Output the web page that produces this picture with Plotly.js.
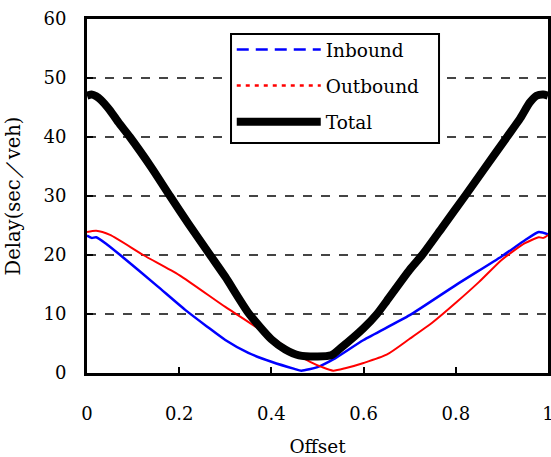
<!DOCTYPE html>
<html>
<head>
<meta charset="utf-8">
<script src="https://cdn.plot.ly/plotly-3.0.1.min.js"></script>
<style>html,body{margin:0;padding:0;background:#fff;}#chart{width:551px;height:457px;}</style>
</head>
<body>
<div id="chart"></div>
<script>
// Offset (x) and delay (sec/veh)
const offsetTotal = [0, 0.01, 0.02, 0.03, 0.05, 0.07, 0.093, 0.14, 0.18, 0.22, 0.267, 0.3, 0.35, 0.4, 0.43, 0.46, 0.5, 0.53, 0.55, 0.6, 0.629, 0.65, 0.7, 0.727, 0.77, 0.82, 0.86, 0.911, 0.94, 0.96, 0.975, 0.99, 1];
const delayTotal  = [47, 47.2, 46.9, 46.3, 44.5, 42.3, 40, 34.8, 30, 25.3, 20, 16.3, 10.2, 5.7, 4.0, 3.0, 2.8, 3.0, 4.2, 7.6, 10, 12.2, 17.5, 20, 24.6, 30, 34.4, 40, 43.2, 45.8, 47, 47.2, 47];

const offsetIn = [0, 0.01, 0.02, 0.04, 0.072, 0.15, 0.213, 0.26, 0.3, 0.35, 0.4, 0.45, 0.465, 0.5, 0.534, 0.6, 0.7, 0.8, 0.9, 0.95, 0.98, 1];
const delayIn  = [23.3, 22.9, 23.0, 22.0, 20, 14.9, 10.7, 7.9, 5.6, 3.4, 1.9, 0.7, 0.4, 1.0, 2.3, 5.6, 9.8, 14.9, 19.8, 22.5, 23.9, 23.5];

const offsetOut = [0, 0.02, 0.05, 0.122, 0.2, 0.3, 0.4, 0.45, 0.484, 0.51, 0.534, 0.56, 0.6, 0.65, 0.7, 0.75, 0.8, 0.85, 0.9, 0.95, 0.98, 0.99, 1];
const delayOut  = [23.9, 24.1, 23.4, 20, 16.6, 11.2, 6.1, 3.4, 1.9, 1.0, 0.4, 0.8, 1.7, 3.1, 5.8, 8.6, 11.9, 15.4, 19.2, 22.0, 23.0, 22.9, 23.4];

const seriesNames = ["Inbound", "Outbound", "Total"];
const xTickVals = [0, 0.2, 0.4, 0.6, 0.8, 1];
const xTickText = ["0", "0.2", "0.4", "0.6", "0.8", "1"];
const yTickVals = [0, 10, 20, 30, 40, 50, 60];
const xTitle = "Offset";
const yTitle = "Delay(sec／veh)";

const FONT = "DejaVu Serif";

const traces = [
  {x: offsetIn, y: delayIn, mode: "lines", line: {color: "#0000ff", width: 2.5, shape: "spline", smoothing: 0.6}, showlegend: false, hoverinfo: "skip"},
  {x: offsetOut, y: delayOut, mode: "lines", line: {color: "#ff0000", width: 2, shape: "spline", smoothing: 0.6}, showlegend: false, hoverinfo: "skip"},
  {x: offsetTotal, y: delayTotal, mode: "lines", line: {color: "#000000", width: 8, shape: "spline", smoothing: 0.6}, showlegend: false, hoverinfo: "skip"},
  // legend entries (styled as in the reference legend)
  {x: [null], y: [null], mode: "lines", name: seriesNames[0], legendgroup: "a", line: {color: "#0000ff", width: 2.5, dash: "12px,7px"}},
  {x: [null], y: [null], mode: "lines", name: seriesNames[1], legendgroup: "b", line: {color: "#ff0000", width: 2.5, dash: "4px,5px"}},
  {x: [null], y: [null], mode: "lines", name: seriesNames[2], legendgroup: "c", line: {color: "#000000", width: 8}}
];

const layout = {
  width: 551, height: 457,
  margin: {l: 87, r: 3, t: 19, b: 84, pad: 0},
  paper_bgcolor: "#ffffff", plot_bgcolor: "#ffffff",
  font: {family: FONT, size: 18, color: "#000"},
  showlegend: true,
  legend: {
    x: 0.314, y: 0.966, xanchor: "left", yanchor: "top",
    borderwidth: 0, bgcolor: "rgba(0,0,0,0)",
    font: {family: FONT, size: 18.5, color: "#000"},
    itemwidth: 84, tracegroupgap: 9, traceorder: "grouped"
  },
  shapes: [
    {type: "rect", xref: "paper", yref: "paper", x0: 0.3124, x1: 0.7636, y0: 0.6497, y1: 0.9576,
     line: {color: "#000", width: 2}, fillcolor: "#fff", layer: "above"}
  ],
  xaxis: {
    range: [0, 1], tickvals: xTickVals, ticktext: xTickText,
    ticks: "inside", ticklen: 6, tickwidth: 2, tickcolor: "#000",
    showline: true, linecolor: "#000", linewidth: 3, mirror: true,
    showgrid: false, zeroline: false, ticklabelstandoff: 22, ticklabeloverflow: "allow",
    tickfont: {family: FONT, size: 18, color: "#000"},
    title: {text: xTitle, standoff: 20, font: {family: FONT, size: 18.5, color: "#000"}}
  },
  yaxis: {
    range: [0, 60], tickvals: yTickVals,
    ticks: "inside", ticklen: 6, tickwidth: 2, tickcolor: "#000",
    showline: true, linecolor: "#000", linewidth: 3, mirror: true,
    showgrid: true, gridcolor: "#444", gridwidth: 1.2, griddash: "dash",
    zeroline: false, ticklabelstandoff: 14,
    tickfont: {family: FONT, size: 18, color: "#000"},
    title: {text: yTitle, standoff: 18, font: {family: FONT, size: 19.5, color: "#000"}}
  }
};

Plotly.newPlot("chart", traces, layout, {displayModeBar: false, staticPlot: true});
</script>
</body>
</html>
